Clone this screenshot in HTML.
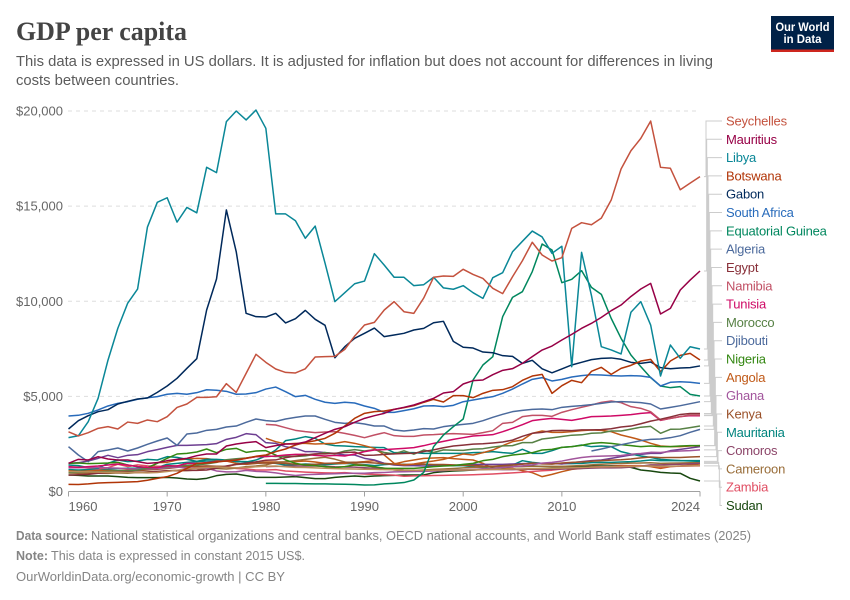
<!DOCTYPE html>
<html lang="en">
<head>
<meta charset="utf-8">
<title>GDP per capita</title>
<style>
html,body{margin:0;padding:0;background:#fff}
svg{display:block;font-family:"Liberation Sans",sans-serif}
</style>
</head>
<body>
<svg id="chart" width="850" height="600" viewBox="0 0 850 600" xmlns="http://www.w3.org/2000/svg">
<rect width="850" height="600" fill="#fff"/>
<text x="16" y="40" font-family="'Liberation Serif',serif" font-weight="700" font-size="26" fill="#444444" textLength="171" lengthAdjust="spacingAndGlyphs">GDP per capita</text>
<text x="16" y="66" font-size="15" fill="#5b5b5b" textLength="697" lengthAdjust="spacingAndGlyphs">This data is expressed in US dollars. It is adjusted for inflation but does not account for differences in living</text>
<text x="16" y="85" font-size="15" fill="#5b5b5b" textLength="163" lengthAdjust="spacingAndGlyphs">costs between countries.</text>
<g>
<rect x="771" y="16" width="63" height="36" fill="#002147"/>
<rect x="771" y="49.5" width="63" height="2.5" fill="#ce261e"/>
<text x="802.5" y="31" font-size="12" font-weight="700" fill="#fff" text-anchor="middle" textLength="54" lengthAdjust="spacingAndGlyphs">Our World</text>
<text x="802.5" y="43" font-size="12" font-weight="700" fill="#fff" text-anchor="middle" textLength="38" lengthAdjust="spacingAndGlyphs">in Data</text>
</g>
<g id="grid"></g>
<g id="axes"></g>
<g id="connectors"></g>
<g id="lines"></g>
<g id="labels"></g>
<text x="16" y="540" font-size="13" font-weight="700" fill="#858585" textLength="72" lengthAdjust="spacingAndGlyphs">Data source:</text>
<text x="91" y="540" font-size="13" fill="#858585" textLength="660" lengthAdjust="spacingAndGlyphs">National statistical organizations and central banks, OECD national accounts, and World Bank staff estimates (2025)</text>
<text x="16" y="560" font-size="13" font-weight="700" fill="#858585" textLength="32" lengthAdjust="spacingAndGlyphs">Note:</text>
<text x="51" y="560" font-size="13" fill="#858585" textLength="254" lengthAdjust="spacingAndGlyphs">This data is expressed in constant 2015 US$.</text>
<text x="16" y="581" font-size="13" fill="#858585" textLength="269" lengthAdjust="spacingAndGlyphs">OurWorldinData.org/economic-growth | CC BY</text>
</svg>
<script>
const yTicks = [0, 5000, 10000, 15000, 20000];
const yTickLabels = ["$0", "$5,000", "$10,000", "$15,000", "$20,000"];
const xTicks = [1960, 1970, 1980, 1990, 2000, 2010, 2024];
const firstYear = 1960;
const lastYear = 2024;

const seychelles = [3140,2920,3090,3320,3410,3285,3650,3580,3760,3670,3930,4420,4600,4950,4950,4980,5670,5210,6210,7210,6790,6440,6260,6230,6450,7070,7090,7100,7470,8170,8750,8890,9540,9980,9450,9365,10170,11260,11330,11310,11680,11410,11200,10680,10400,11290,12130,13100,12430,12115,12290,13830,14130,14020,14370,15320,16950,17910,18560,19470,17040,16990,15860,16210,16550];
const mauritius = [1480,1690,1655,1830,1708,1655,1655,1568,1480,1515,1620,1690,1743,1883,1971,1971,2391,2496,2566,2619,2304,2409,2496,2496,2601,2829,3057,3267,3407,3635,3845,3985,4108,4318,4424,4546,4721,4897,5177,5247,5650,5825,5860,6141,6368,6456,6736,7087,7437,7647,7963,8260,8576,8839,9154,9504,9802,10250,10643,10940,9329,9627,10590,11115,11590];
const libya = [2830,2930,3670,4900,6900,8580,9900,10640,13900,15200,15440,14160,14930,14650,17040,16760,19440,20000,19530,20050,19090,14590,14590,14230,13310,13950,12000,9980,10450,10920,11060,12500,11900,11260,11260,10820,10870,11260,10700,10630,10820,10450,10150,11240,11500,12600,13150,13690,13380,12520,12890,6560,12570,10300,7610,7440,7230,9420,9980,8750,6070,7700,7000,7610,7490];
const botswana = [377,370,400,446,465,482,500,520,590,690,780,955,1218,1480,1500,1550,1600,1650,1750,1850,1918,2094,2234,2444,2584,2670,2794,3057,3442,3845,4108,4196,4231,4318,4406,4511,4686,4844,4704,5037,5037,4932,5159,5317,5352,5510,5843,6070,6158,5159,5562,5843,5720,6316,6526,6158,6473,6631,6859,6946,6298,6859,7157,7262,6911];
const gabon = [3285,3720,3985,4195,4300,4600,4740,4860,4915,5210,5545,5950,6475,6980,9540,11170,14800,12600,9365,9190,9170,9365,8860,9085,9520,9050,8735,7030,7610,8050,8315,8590,8140,8225,8315,8490,8575,8870,8945,7890,7580,7540,7330,7295,7140,7100,6735,6895,6450,6240,6440,6650,6790,6930,7000,7020,6950,6790,6735,6805,6510,6450,6490,6510,6600];
const southAfrica = [3970,4005,4110,4285,4495,4635,4720,4845,4930,4985,5110,5160,5110,5195,5350,5320,5265,5110,5125,5195,5385,5490,5245,4985,5055,4845,4690,4635,4690,4650,4495,4370,4160,4160,4250,4350,4495,4510,4460,4530,4720,4810,4900,4985,5160,5385,5650,5895,5985,5810,5895,6020,6090,6140,6125,6090,6070,6090,6070,6000,5545,5740,5770,5740,5685];
const equatorialGuinea = [430,430,420,420,410,400,400,390,380,370,341,350,400,430,470,604,1000,2356,2969,3407,3810,5860,6649,7087,9189,10205,10503,11555,13009,12693,10976,11151,11607,10731,10363,9100,8050,7174,6561,5983,5545,5457,5510,5107,5019];
const algeria = [2356,1918,1568,2094,2181,2286,2128,2286,2479,2654,2812,2426,3022,3075,3215,3267,3390,3442,3635,3810,3723,3688,3810,3898,3968,3968,3793,3635,3583,3618,3548,3442,3442,3232,3180,3232,3302,3285,3407,3477,3530,3583,3723,3898,4056,4196,4266,4318,4336,4301,4424,4476,4511,4564,4634,4704,4721,4704,4669,4599,4336,4424,4511,4616,4721];
const egypt = [860,880,900,960,1000,1040,1030,990,1010,1060,1090,1110,1120,1110,1130,1220,1340,1430,1490,1560,1640,1660,1780,1860,1920,1980,1980,2010,2050,2070,1900,1910,1950,1980,2000,2010,2100,2190,2300,2390,2440,2490,2510,2550,2600,2700,2900,3060,3110,3200,3210,3200,3240,3240,3250,3300,3390,3440,3560,3700,3800,3920,4050,4100,4100];
const namibia = [3530,3495,3355,3215,3145,3092,3127,3145,3057,2952,2829,2969,3092,2934,2899,2899,2969,2987,3022,3040,3022,3005,3092,3197,3583,3635,3933,4003,4003,3950,4161,4301,4424,4546,4686,4756,4669,4459,4371,4196,3758,3845,3933,4020,4020];
const tunisia = [1305,1270,1305,1340,1393,1445,1393,1305,1270,1253,1358,1340,1480,1480,1515,1568,1603,1655,1743,1831,1831,1866,1918,1953,1953,1901,1866,1901,1866,1971,2094,2181,2198,2234,2269,2304,2409,2532,2636,2741,2829,2917,2952,2987,3145,3320,3513,3723,3793,3845,3793,3740,3828,3933,3950,3968,4003,4038,4108,4143,3740,3845,3933,3985,3985];
const morocco = [1000,1010,1030,1030,1060,1090,1080,1130,1220,1270,1310,1350,1380,1400,1450,1530,1670,1720,1760,1830,1870,1840,1850,1840,1870,1950,2050,1980,2130,2200,2130,2200,2050,1980,2140,1960,2180,2050,2190,2170,2160,2230,2250,2330,2400,2410,2570,2570,2760,2820,2890,2960,2980,3060,3080,3180,3180,3280,3380,3420,3060,3270,3280,3360,3440];
const djibouti = [2128,2234,2356,2461,2566,2671,2741,2759,2829,2934,3110,3267];
const nigeria = [1480,1498,1463,1480,1498,1533,1393,1305,1253,1480,1743,1971,2006,2076,2234,2041,2216,2269,2058,2129,2146,1918,1655,1480,1393,1358,1305,1253,1305,1393,1358,1305,1217,1217,1217,1217,1253,1305,1340,1358,1428,1480,1620,1690,1831,1918,1971,2041,2181,2216,2321,2356,2426,2532,2567,2532,2461,2409,2356,2391,2356,2356,2391,2409,2409];
const angola = [2794,2619,2496,2532,2532,2496,2514,2532,2619,2532,2409,2269,1918,1480,1393,1445,1533,1603,1690,1831,1971,1918,2041,2181,2409,2619,2707,3057,3180,3110,3110,3145,3197,3232,3215,3145,2969,2847,2707,2532,2391,2356,2356,2391,2409];
const ghana = [1240,1250,1260,1260,1240,1230,1190,1190,1180,1210,1250,1290,1230,1230,1230,1080,1030,1040,1110,1060,1040,980,900,840,890,900,920,930,950,960,960,990,1000,1030,1040,1050,1060,1080,1100,1130,1140,1160,1190,1210,1260,1300,1350,1400,1490,1530,1600,1700,1790,1840,1860,1870,1890,1960,2000,2060,2050,2100,2130,2150,2190];
const kenya = [1000,990,970,1000,1050,1020,1100,1100,1130,1170,1210,1270,1310,1330,1350,1330,1320,1420,1450,1480,1500,1490,1470,1440,1410,1430,1470,1500,1530,1540,1530,1500,1460,1430,1420,1430,1440,1420,1420,1400,1380,1370,1340,1330,1360,1390,1430,1490,1450,1440,1500,1530,1550,1590,1620,1650,1670,1710,1770,1810,1780,1790,1790,1810,1830];
const mauritania = [1393,1358,1253,1217,1480,1655,1568,1603,1690,1655,1831,1796,1690,1585,1690,1690,1655,1568,1550,1655,1866,2181,2672,2759,2882,2794,2496,2409,2391,2356,2339,2321,2304,2041,2041,2041,2006,2006,2006,2006,2006,2041,2058,2094,2041,2006,2216,2006,2006,2146,2321,2356,2444,2356,2391,2356,2094,1971,1866,1796,1690,1655,1620,1603,1585];
const comoros = [1310,1320,1330,1340,1340,1340,1330,1300,1290,1280,1250,1220,1200,1190,1130,1110,1100,1110,1130,1130,1130,1130,1150,1160,1150,1150,1160,1170,1170,1170,1180,1190,1210,1230,1240,1240,1250,1280,1330,1400,1400,1420,1430,1450,1480];
const cameroon = [970,960,970,960,950,980,960,1000,1030,1050,1090,1090,1100,1130,1220,1210,1180,1230,1310,1340,1400,1530,1560,1620,1690,1750,1800,1700,1550,1470,1380,1290,1230,1130,1090,1110,1130,1160,1180,1210,1240,1270,1290,1300,1320,1310,1310,1320,1320,1320,1320,1340,1370,1400,1430,1460,1470,1490,1500,1510,1480,1490,1500,1510,1520];
const zambia = [1290,1280,1230,1180,1250,1430,1310,1400,1350,1330,1320,1300,1340,1290,1320,1250,1290,1210,1180,1130,1130,1150,1080,1050,1020,1000,980,970,990,950,920,900,880,860,800,820,830,840,850,860,870,880,900,920,950,980,1010,1050,1090,1120,1180,1220,1250,1290,1300,1310,1320,1330,1350,1340,1300,1320,1330,1340,1350];
const sudan = [867,850,815,815,815,780,744,727,727,727,744,709,657,639,692,832,902,919,832,744,744,744,762,780,727,674,674,744,780,815,780,815,832,850,867,867,867,990,1042,1077,1095,1130,1165,1217,1253,1305,1322,1340,1322,1305,1305,1305,1322,1340,1340,1340,1322,1270,1130,1077,1007,972,955,692,552];
const otherPurple = [1480,1515,1603,1743,1901,1778,1901,1936,2094,2199,2321,2426,2426,2444,2461,2514,2742,2847,3040,2987,2567,2532,2356,2269,2094,2094,2041,2006,1918,1918,1743,1655,1480,1393,1358,1358,1340,1340,1358,1375,1393,1428,1428,1428,1428,1445,1463,1480,1480,1480,1445,1515,1568,1620,1655,1743,1831,1918,1953,2006,2006,2146,2216,2286,2356];
const otherOrange = [1090,1060,1080,1100,1110,1100,1120,1130,1150,1515,1533,1655,1708,1743,1725,1655,1603,1480,1428,1480,1550,1550,1550,1568,1603,1550,1480,1480,1480,1533,1568,1620,1480,1445,1568,1655,1743,1760,1778,1725,1690,1655,1480,1217,1217,1217,1095,989,780,902,1042,1165,1217,1253,1305,1340,1358,1358,1358,1305,1217,1305,1340,1393,1445];
const otherTeal = [1150,1130,1150,1160,1170,1200,1220,1220,1240,1270,1428,1480,1533,1568,1603,1603,1603,1585,1568,1533,1515,1480,1393,1410,1445,1428,1410,1445,1480,1445,1410,1358,1410,1445,1428,1393,1445,1358,1358,1358,1358,1305,1253,1305,1358,1393,1620,1533,1480,1463,1463,1463,1480,1515,1533,1533,1550,1568,1603,1655,1620,1620,1620,1620,1620];
const otherTan = [1050,1040,1030,1020,1010,1020,1000,990,980,1000,1050,1120,1180,1230,1260,1290,1270,1250,1260,1300,1330,1340,1300,1270,1260,1240,1220,1200,1190,1180,1170,1160,1150,1140,1120,1110,1110,1120,1130,1130,1130,1140,1150,1160,1170,1180,1190,1200,1210,1220,1230,1250,1260,1280,1290,1300,1310,1320,1330,1340,1320,1330,1340,1350,1360];

const seriesList = [
  {name:"Seychelles", key:"seychelles", values:seychelles, start:1960, color:"#C4523E", label:true},
  {name:"Mauritius", key:"mauritius", values:mauritius, start:1960, color:"#970046", label:true},
  {name:"Libya", key:"libya", values:libya, start:1960, color:"#0A8797", label:true},
  {name:"Botswana", key:"botswana", values:botswana, start:1960, color:"#B13507", label:true},
  {name:"Gabon", key:"gabon", values:gabon, start:1960, color:"#00295B", label:true},
  {name:"South Africa", key:"south-africa", values:southAfrica, start:1960, color:"#286BBB", label:true},
  {name:"Equatorial Guinea", key:"equatorial-guinea", values:equatorialGuinea, start:1980, color:"#00875E", label:true},
  {name:"", key:"unlabelled-tan", values:otherTan, start:1960, color:"#BC8E5A", label:false},
  {name:"Algeria", key:"algeria", values:algeria, start:1960, color:"#4C6A9C", label:true},
  {name:"Egypt", key:"egypt", values:egypt, start:1960, color:"#883039", label:true},
  {name:"Namibia", key:"namibia", values:namibia, start:1980, color:"#C15065", label:true},
  {name:"Tunisia", key:"tunisia", values:tunisia, start:1960, color:"#CF0A66", label:true},
  {name:"Morocco", key:"morocco", values:morocco, start:1960, color:"#578145", label:true},
  {name:"Djibouti", key:"djibouti", values:djibouti, start:2013, color:"#4C6A9C", label:true},
  {name:"Nigeria", key:"nigeria", values:nigeria, start:1960, color:"#338711", label:true},
  {name:"Angola", key:"angola", values:angola, start:1980, color:"#C05917", label:true},
  {name:"Ghana", key:"ghana", values:ghana, start:1960, color:"#A2559C", label:true},
  {name:"Kenya", key:"kenya", values:kenya, start:1960, color:"#9A5129", label:true},
  {name:"Mauritania", key:"mauritania", values:mauritania, start:1960, color:"#00847E", label:true},
  {name:"Comoros", key:"comoros", values:comoros, start:1980, color:"#8C4569", label:true},
  {name:"Cameroon", key:"cameroon", values:cameroon, start:1960, color:"#996D39", label:true},
  {name:"Zambia", key:"zambia", values:zambia, start:1960, color:"#E04E63", label:true},
  {name:"Sudan", key:"sudan", values:sudan, start:1960, color:"#18470F", label:true},
  {name:"", key:"unlabelled-purple", values:otherPurple, start:1960, color:"#6D3E91", label:false},
  {name:"", key:"unlabelled-orange", values:otherOrange, start:1960, color:"#C05917", label:false},
  {name:"", key:"unlabelled-teal", values:otherTeal, start:1960, color:"#00847E", label:false}
];

const NS = "http://www.w3.org/2000/svg";
function xScale(year){ return 68.5 + (year - firstYear) * (700 - 68.5) / (lastYear - firstYear); }
function yScale(value){ return 491.5 - value * (491.5 - 111) / 20000; }
function make(tag, attrs, parent){
  const el = document.createElementNS(NS, tag);
  for (const k in attrs) el.setAttribute(k, attrs[k]);
  parent.appendChild(el);
  return el;
}
const grid = document.getElementById("grid");
const axes = document.getElementById("axes");
const connectors = document.getElementById("connectors");
const linesGroup = document.getElementById("lines");
const labelsGroup = document.getElementById("labels");

yTicks.forEach(function(t, i){
  const y = yScale(t);
  if (t > 0) {
    const g = make("line", {x1:68, x2:700, y1:y, y2:y, stroke:"#dddddd", "stroke-dasharray":"4 4"}, grid);
    
    
  }
  const lab = make("text", {x:63, y:y + 4.5, "text-anchor":"end", "font-size":13, fill:"#666666"}, axes);
  lab.textContent = yTickLabels[i];
  
  
});

const baseline = make("line", {x1:68.5, x2:700, y1:491.5, y2:491.5, stroke:"#a1a1a1"}, axes);



xTicks.forEach(function(t, i){
  const x = xScale(t);
  const tick = make("line", {x1:x, x2:x, y1:491.5, y2:496.5, stroke:"#a1a1a1"}, axes);
  
  
  const anchor = i === 0 ? "start" : (i === xTicks.length - 1 ? "end" : "middle");
  const lab = make("text", {x:x, y:511, "text-anchor":anchor, "font-size":13, fill:"#666666"}, axes);
  lab.textContent = String(t);
  
  
});

const labelled = seriesList.filter(function(s){ return s.label; });
labelled.forEach(function(s, i){
  const endY = yScale(s.values[s.values.length - 1]);
  const labelY = 121 + i * (505.5 - 121) / (labelled.length - 1);
  const elbow = 706 + i * 14 / (labelled.length - 1);
  const c = make("path", {d:"M704 " + endY + " H" + elbow + " V" + labelY + " H722", fill:"none", stroke:"#cccccc", "stroke-width":1}, connectors);
  
  
  const t = make("text", {x:726, y:labelY + 4.5, "font-size":13, fill:s.color, "letter-spacing":"-0.2"}, labelsGroup);
  t.textContent = s.name;
  
  
});

seriesList.slice().reverse().forEach(function(s){
  const pts = s.values.map(function(v, i){ return xScale(s.start + i).toFixed(2) + "," + yScale(v).toFixed(2); }).join(" ");
  const p = make("polyline", {points:pts, fill:"none", stroke:s.color, "stroke-width":1.5, "stroke-linejoin":"round"}, linesGroup);
  
  
  p.setAttribute('data-series', s.key);
});
</script>
</body>
</html>
